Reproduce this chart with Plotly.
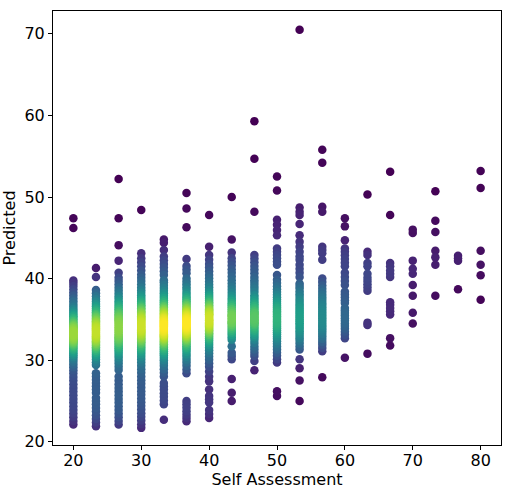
import numpy as np
import plotly.graph_objects as go

# Self-assessment levels (x) and predicted values (y) per level
levels = [20.0, 23.33, 26.67, 30.0, 33.33, 36.67, 40.0, 43.33, 46.67, 50.0,
          53.33, 56.67, 60.0, 63.33, 66.67, 70.0, 73.33, 76.67, 80.0]

pred_20 = [22.1, 22.55, 23.0, 23.45, 23.9, 24.35, 24.8, 25.25, 25.7, 26.15, 26.6, 27.05, 27.5,
           27.93, 28.35, 28.75, 29.13, 29.47, 29.79, 30.08, 30.35, 30.6, 30.83, 31.04, 31.24,
           31.43, 31.6, 31.76, 31.91, 32.06, 32.2, 32.28, 32.34, 32.47, 32.54, 32.6, 32.73,
           32.8, 32.86, 32.99, 33.06, 33.12, 33.25, 33.32, 33.38, 33.51, 33.58, 33.64, 33.77,
           33.84, 33.9, 34.04, 34.11, 34.18, 34.32, 34.47, 34.63, 34.8, 34.98, 35.17, 35.37,
           35.58, 35.81, 36.05, 36.31, 36.59, 36.89, 37.21, 37.55, 37.92, 38.3, 38.7, 39.1,
           39.45, 39.75, 46.2, 47.4]
pred_23 = [21.9, 22.35, 22.8, 23.25, 23.7, 24.15, 24.6, 25.0, 25.4, 26.0, 26.4, 26.8, 27.2,
           27.6, 28.0, 28.4, 29.4, 29.75, 30.08, 30.38, 30.66, 30.92, 31.16, 31.38, 31.59,
           31.79, 31.98, 32.16, 32.33, 32.49, 32.64, 32.79, 32.93, 33.07, 33.21, 33.35, 33.49,
           33.63, 33.77, 33.91, 34.05, 34.19, 34.33, 34.47, 34.62, 34.77, 34.93, 35.1, 35.28,
           35.47, 35.67, 35.88, 36.1, 36.34, 36.6, 36.88, 37.18, 37.5, 37.84, 38.2, 38.6,
           40.2, 41.3]
pred_27 = [22.1, 22.55, 23.0, 23.45, 23.9, 24.35, 24.8, 25.25, 25.7, 26.15, 26.6, 27.05, 27.5,
           28.0, 28.8, 29.2, 29.6, 29.97, 30.32, 30.64, 30.93, 31.2, 31.45, 31.68, 31.9, 32.1,
           32.29, 32.47, 32.64, 32.8, 32.96, 33.18, 33.41, 33.62, 33.83, 34.04, 34.25, 34.46,
           34.67, 34.82, 34.97, 35.12, 35.28, 35.45, 35.63, 35.82, 36.02, 36.23, 36.46, 36.7,
           36.96, 37.23, 37.52, 37.83, 38.17, 38.53, 38.9, 39.3, 39.7, 40.1, 40.7, 42.2, 44.1,
           47.4, 52.2]
pred_30 = [21.7, 22.15, 22.6, 23.05, 23.5, 23.95, 24.4, 24.85, 25.3, 25.75, 26.2, 26.65, 27.1,
           27.55, 28.0, 28.45, 28.9, 29.32, 29.72, 30.08, 30.42, 30.74, 31.03, 31.3, 31.54,
           31.77, 31.98, 32.18, 32.36, 32.53, 32.69, 32.84, 32.99, 33.13, 33.27, 33.41, 33.54,
           33.67, 33.8, 33.93, 34.06, 34.19, 34.32, 34.45, 34.58, 34.71, 34.84, 34.97, 35.1,
           35.24, 35.38, 35.53, 35.68, 35.84, 36.0, 36.17, 36.35, 36.54, 36.74, 36.95, 37.18,
           37.42, 37.68, 37.96, 38.26, 38.58, 38.92, 39.3, 39.7, 40.1, 40.5, 41.0, 41.5, 42.0,
           42.5, 43.1, 48.4]
pred_33 = [22.7, 24.6, 25.05, 25.5, 25.95, 26.4, 26.8, 27.2, 28.0, 28.45, 28.9, 29.3, 29.65,
           30.0, 30.3, 30.6, 30.85, 31.1, 31.33, 31.55, 31.75, 31.94, 32.12, 32.3, 32.46, 32.62,
           32.77, 32.92, 33.06, 33.19, 33.32, 33.45, 33.57, 33.69, 33.81, 33.93, 34.05, 34.17,
           34.29, 34.41, 34.53, 34.65, 34.77, 34.9, 35.03, 35.16, 35.3, 35.45, 35.6, 35.76,
           35.92, 36.08, 36.26, 36.45, 36.65, 36.86, 37.1, 37.35, 37.62, 37.9, 38.2, 38.5,
           38.85, 39.2, 39.55, 39.8, 40.45, 40.9, 41.35, 41.8, 42.25, 42.7, 43.5, 44.4, 44.8]
pred_37 = [22.5, 22.9, 23.3, 23.75, 24.2, 24.6, 25.0, 28.4, 28.85, 29.3, 29.7, 30.05, 30.4,
           30.7, 31.0, 31.27, 31.5, 31.72, 31.93, 32.13, 32.32, 32.5, 32.66, 32.82, 32.97, 33.11,
           33.25, 33.38, 33.51, 33.63, 33.75, 33.87, 33.99, 34.11, 34.23, 34.35, 34.47, 34.59,
           34.71, 34.83, 34.95, 35.07, 35.2, 35.33, 35.46, 35.6, 35.75, 35.9, 36.06, 36.22,
           36.4, 36.58, 36.78, 37.0, 37.23, 37.47, 37.72, 38.0, 38.3, 38.62, 38.95, 39.3, 39.65,
           40.0, 40.65, 41.1, 41.55, 42.4, 46.3, 48.6, 50.5]
pred_40 = [22.9, 23.4, 23.9, 24.8, 25.2, 25.6, 26.4, 27.4, 28.0, 28.6, 29.2, 29.62, 30.04,
           30.45, 30.84, 31.2, 31.54, 31.85, 32.14, 32.41, 32.66, 32.89, 33.1, 33.3, 33.49,
           33.66, 33.82, 33.97, 34.12, 34.26, 34.4, 34.53, 34.66, 34.79, 34.85, 34.92,
           35.05, 35.18, 35.31, 35.44, 35.57, 35.63, 35.7, 35.83, 35.97,
           36.11, 36.25, 36.4, 36.56, 36.73, 36.91, 37.1, 37.3, 37.52, 37.76, 38.02, 38.3, 38.6,
           38.93, 39.28, 39.65, 40.05, 40.45, 40.9, 41.35, 41.8, 42.3, 42.9, 43.9, 47.8]
pred_43 = [25.0, 26.0, 27.7, 30.1, 30.5, 30.9, 31.7, 32.5, 32.8, 33.1, 33.37, 33.62, 33.86,
           34.09, 34.31, 34.52, 34.62, 34.73, 34.94, 35.15, 35.36, 35.47, 35.57,
           35.79, 36.01, 36.24, 36.48, 36.73, 36.99, 37.27, 37.57, 37.9, 38.25, 38.62,
           39.0, 39.4, 39.8, 40.25, 40.7, 41.15, 41.6, 42.05, 42.5, 43.2, 44.8, 50.0]
pred_47 = [28.75, 29.9, 30.5, 30.9, 31.3, 31.67, 32.1, 32.5, 32.8, 33.08, 33.35, 33.6, 33.84,
           34.06, 34.27, 34.47, 34.57, 34.67, 34.86, 34.95, 35.05, 35.24, 35.33, 35.43, 35.62,
           35.71, 35.81, 36.0, 36.2, 36.41, 36.63, 36.86, 37.1, 37.36, 37.64, 37.95, 38.4,
           38.75, 39.1, 39.45, 39.8, 40.2, 40.65, 41.1, 41.55, 42.0, 42.45, 42.9, 48.2, 54.7,
           59.3]
pred_50 = [25.6, 26.2, 29.7, 30.12, 30.53, 30.92, 31.3, 31.66, 32.0, 32.32, 32.62, 32.9, 33.17,
           33.43, 33.67, 33.9, 34.12, 34.33, 34.54, 34.75, 34.96, 35.17, 35.38, 35.59, 35.8,
           36.01, 36.22, 36.44, 36.67, 36.91, 37.16, 37.43, 37.72, 38.02, 38.35, 38.7, 39.07,
           39.45, 39.85, 40.45, 41.7, 42.1, 42.5, 42.9, 43.3, 43.7, 45.3, 45.95, 46.6, 47.2,
           50.8, 52.5]
pred_53 = [25.0, 27.5, 29.0, 30.1, 31.3, 31.68, 32.04, 32.38, 32.7, 33.0, 33.28, 33.55, 33.81,
           34.06, 34.3, 34.53, 34.76, 34.99, 35.22, 35.45, 35.68, 35.91, 36.14, 36.38, 36.63,
           36.89, 37.16, 37.45, 37.76, 38.08, 38.42, 38.78, 39.1, 39.4, 40.2, 40.7, 41.2, 41.7,
           42.3, 42.7, 43.3, 43.9, 44.5, 45.3, 46.7, 47.8, 48.2, 48.7, 70.5]
pred_57 = [27.9, 31.1, 31.5, 31.88, 32.24, 32.58, 32.9, 33.2, 33.5, 33.78, 34.05, 34.32, 34.59,
           34.86, 35.13, 35.4, 35.67, 35.94, 36.21, 36.48, 36.76, 37.05, 37.36, 37.68, 38.02,
           38.38, 38.76, 39.16, 39.58, 40.0, 42.3, 43.1, 43.5, 43.9, 48.2, 48.8, 54.2, 55.8]
pred_60 = [30.3, 32.7, 33.1, 33.48, 33.84, 34.18, 34.5, 34.82, 35.14, 35.46, 35.78, 36.1, 36.4,
           37.0, 37.35, 37.7, 38.05, 38.4, 39.2, 39.7, 40.2, 40.7, 41.5, 41.95, 42.4, 42.85,
           43.3, 43.7, 44.7, 46.4, 47.4]
pred_63 = [30.8, 34.3, 34.6, 38.5, 38.9, 39.3, 39.7, 40.1, 40.6, 41.5, 41.9, 42.9, 43.3, 50.3]
pred_67 = [31.8, 32.7, 35.6, 36.0, 36.4, 36.8, 37.1, 40.2, 40.6, 41.0, 41.5, 41.9, 47.8, 53.1]
pred_70 = [34.5, 35.8, 37.9, 39.2, 40.6, 41.2, 42.2, 45.6, 46.0]
pred_73 = [37.9, 41.7, 42.6, 43.4, 45.7, 47.1, 50.7]
pred_77 = [38.7, 42.2, 42.5, 42.8]
pred_80 = [37.4, 40.4, 41.7, 43.4, 51.1, 53.2]

columns = [pred_20, pred_23, pred_27, pred_30, pred_33, pred_37, pred_40, pred_43, pred_47,
           pred_50, pred_53, pred_57, pred_60, pred_63, pred_67, pred_70, pred_73, pred_77, pred_80]

x = np.concatenate([[lv] * len(col) for lv, col in zip(levels, columns)])
y = np.concatenate([np.array(col, dtype=float) for col in columns])

# point density (gaussian kernel estimate), used for the colour
bw_x, bw_y = 2.6, 1.35
dx = (x[:, None] - x[None, :]) / bw_x
dy = (y[:, None] - y[None, :]) / bw_y
dens = np.exp(-0.5 * (dx ** 2 + dy ** 2)).sum(axis=1)
order = np.argsort(dens)
x, y, dens = x[order], y[order], dens[order]

fig = go.Figure(go.Scatter(
    x=x, y=y, mode="markers",
    marker=dict(size=8.5, color=dens, colorscale="Viridis", line=dict(width=0)),
    hoverinfo="skip",
))

font = dict(family="DejaVu Sans", size=16, color="black")
axis_common = dict(showgrid=False, zeroline=False, showline=True, linecolor="black",
                   linewidth=1, mirror=True, ticks="outside", ticklen=4, tickcolor="black",
                   tickfont=font, automargin=False)
fig.update_layout(
    width=510, height=493,
    margin=dict(l=53, r=9, t=11, b=48),
    paper_bgcolor="white", plot_bgcolor="white",
    showlegend=False,
    xaxis=dict(range=[17, 83], tickvals=[20, 30, 40, 50, 60, 70, 80], ticklabelstandoff=-3,
               title=dict(text="Self Assessment", font=font, standoff=0), **axis_common),
    yaxis=dict(range=[19.6, 72.8], tickvals=[20, 30, 40, 50, 60, 70],
               title=dict(text="Predicted", font=font, standoff=5), **axis_common),
)
fig.write_html("out.html", config={"displayModeBar": False},
               post_script="document.body.style.margin='0';")
